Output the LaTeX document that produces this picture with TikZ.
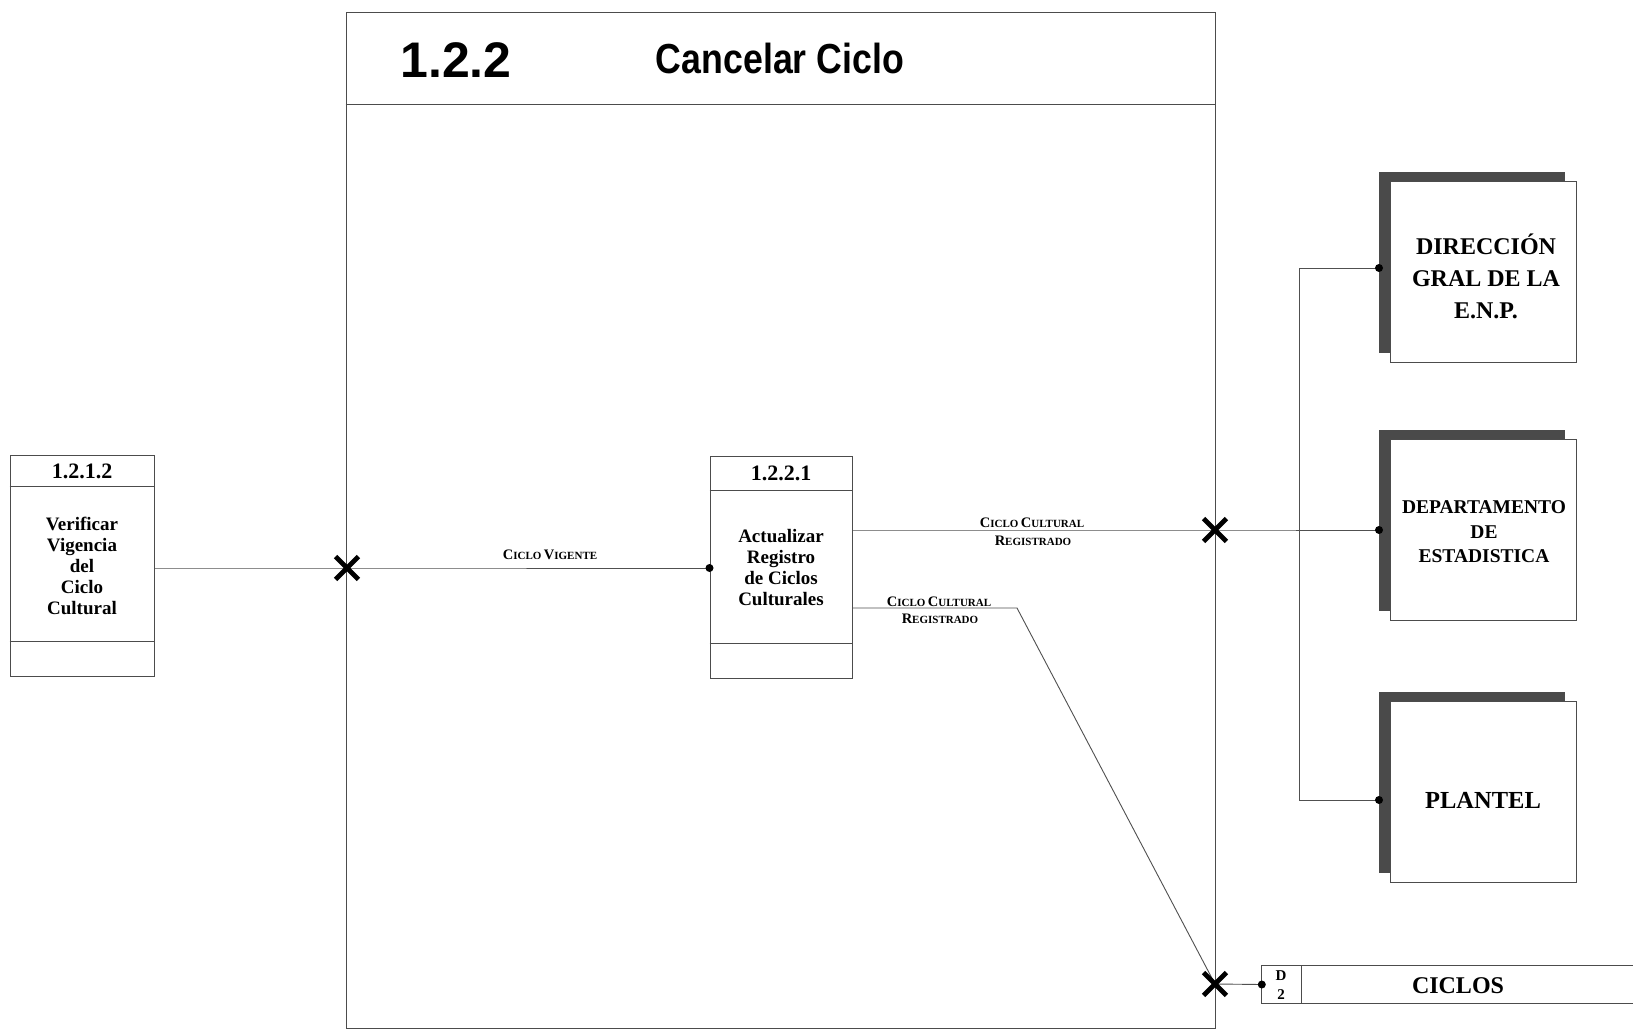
\documentclass[tikz,border=0pt]{standalone}
\usepackage{fontspec}
\setmainfont{Liberation Serif}
\newfontfamily\hdfont{Liberation Sans}
\newfontfamily\hdcfont[FakeStretch=0.85]{Liberation Sans}
\usetikzlibrary{shadows,shapes.misc}
\definecolor{shadowgray}{HTML}{4A4A4A}
\definecolor{linegray}{HTML}{505050}
\newcommand\lbsc[2]{{\fontsize{14.5}{14.5}\selectfont #1}{\fontsize{11}{11}\selectfont #2}}
\begin{document}
\begin{tikzpicture}[x=1pt,y=-1pt,
  ln/.style={draw=linegray, line width=0.9pt},
  boxln/.style={draw=black!70, line width=1pt},
  procbox/.style={boxln, rectangle, inner sep=0pt},
  ent/.style={rectangle, draw=black!70, line width=0.8pt, fill=white, inner sep=0pt,
    minimum width=186pt, minimum height=181pt,
    general shadow={fill=shadowgray, shadow xshift=-11.5pt, shadow yshift=9.5pt}},
  dotc/.style={circle, fill=black, inner sep=0pt, minimum size=8pt},
  xmk/.style={cross out, draw=black, line width=4.8pt, minimum size=18pt, inner sep=0pt},
  idtxt/.style={font=\fontsize{22}{22}\selectfont\bfseries, inner sep=0pt},
  proctxt/.style={font=\fontsize{19}{21}\selectfont\bfseries, align=center, inner sep=0pt},
  lbl/.style={anchor=base, inner sep=0pt, font=\bfseries},
  enttxt/.style={align=center, inner sep=0pt}
]
\fill[white] (0,0) rectangle (1633,1030);
\useasboundingbox (0,0) rectangle (1633,1030);

% main frame
\node[procbox, minimum width=869pt, minimum height=1015pt] (frame) at (780.5,520.5) {};
\draw[boxln] (frame.west |- 0,105) -- (frame.east |- 0,105);
\node[inner sep=0pt, font=\hdfont\fontsize{50}{50}\selectfont\bfseries] (num) at (456,60) {1.2.2};
\node[inner sep=0pt, font=\hdcfont\fontsize{42}{42}\selectfont\bfseries] (title) at (780,58) {Cancelar Ciclo};

% process 1.2.1.2
\node[procbox, minimum width=144pt, minimum height=221pt] (p1212) at (82,565.5) {};
\draw[boxln] (p1212.west |- 0,486) -- (p1212.east |- 0,486);
\draw[boxln] (p1212.west |- 0,641) -- (p1212.east |- 0,641);
\node[idtxt] (p1212id) at (82,471) {1.2.1.2};
\node[proctxt] (p1212tx) at (82,566) {Verificar\\Vigencia\\del\\Ciclo\\Cultural};

% process 1.2.2.1
\node[procbox, minimum width=142pt, minimum height=222pt] (p1221) at (781,567) {};
\draw[boxln] (p1221.west |- 0,490) -- (p1221.east |- 0,490);
\draw[boxln] (p1221.west |- 0,643) -- (p1221.east |- 0,643);
\node[idtxt] (p1221id) at (781,473) {1.2.2.1};
\node[proctxt] (p1221tx) at (781,568) {Actualizar\\Registro\\de Ciclos\\Culturales};

% external entities
\node[ent] (dir) at (1483,271.5) {};
\node[enttxt, font=\fontsize{24}{32}\selectfont\bfseries] (dirtx) at (1486,276) {DIRECCIÓN\\GRAL DE LA\\E.N.P.};
\node[ent] (dept) at (1483,530) {};
\node[enttxt, font=\fontsize{19.5}{24.5}\selectfont\bfseries] (depttx) at (1484,532) {DEPARTAMENTO\\DE\\ESTADISTICA};
\node[ent] (plantel) at (1483,792) {};
\node[enttxt, font=\fontsize{24.5}{24.5}\selectfont\bfseries] (planteltx) at (1483,800) {PLANTEL};

% data store
\node[inner sep=0pt, minimum width=371pt, minimum height=37pt] (store) at (1447.5,984.5) {};
\draw[boxln] (store.north east) -- (store.north west) -- (store.south west) -- (store.south east);
\draw[boxln] (store.north west -| 1301,0) -- (store.south west -| 1301,0);
\node[inner sep=0pt, font=\fontsize{15}{15}\selectfont\bfseries] (sd) at (1281,976) {D};
\node[inner sep=0pt, font=\fontsize{15}{15}\selectfont\bfseries] (s2) at (1281,995) {2};
\node[inner sep=0pt, font=\fontsize{24}{24}\selectfont\bfseries] (storetx) at (1458,986) {CICLOS};

% coordinates
\coordinate (x1) at (347,568);
\coordinate (x2) at (1215,530);
\coordinate (x3) at (1215,984);
\coordinate (bend) at (1017,608);
\coordinate (trunk) at (1299,530);
\coordinate (dd) at (1379,268);
\coordinate (pd) at (1379,800);
\coordinate (ed) at (1379,530);

% connectors
\draw[ln] (p1212.east |- x1) -- (x1) -- (p1221.west |- x1);
\draw[ln] (p1221.east |- x2) -- (x2) -- (ed);
\draw[ln] (p1221.east |- bend) -- (bend) -- (x3);
\draw[ln] (x3) -- (store.west);
\draw[ln] (dd) -- (dd -| trunk) -- (pd -| trunk) -- (pd);

% labels
\node[lbl] (lv) at (550,559) {\lbsc{C}{ICLO} \lbsc{V}{IGENTE}};
\node[lbl] (l2a) at (1032,527) {\lbsc{C}{ICLO} \lbsc{C}{ULTURAL}};
\node[lbl] (l2b) at (1033,545) {\lbsc{R}{EGISTRADO}};
\node[lbl] (l3a) at (939,606) {\lbsc{C}{ICLO} \lbsc{C}{ULTURAL}};
\node[lbl] (l3b) at (940,623) {\lbsc{R}{EGISTRADO}};

% dots
\node[dotc] (d1) at (p1221.west |- x1) {};
\node[dotc] (d2) at (ed) {};
\node[dotc] (d3) at (dd) {};
\node[dotc] (d4) at (pd) {};
\node[dotc] (d5) at (store.west) {};

% crossings
\node[xmk] (xm1) at (x1) {};
\node[xmk] (xm2) at (x2) {};
\node[xmk] (xm3) at (x3) {};
\end{tikzpicture}
\end{document}
